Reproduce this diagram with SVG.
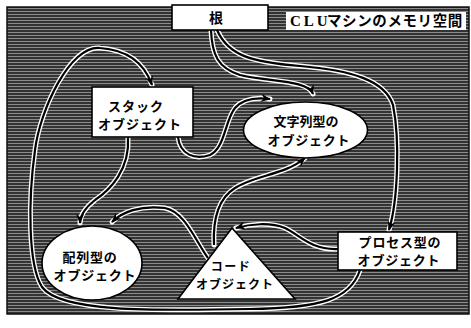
<svg xmlns="http://www.w3.org/2000/svg" width="471" height="328" viewBox="0 0 471 328">
<defs>
<pattern id="halftone" width="4" height="3" patternUnits="userSpaceOnUse">
<rect width="4" height="3" fill="#333"/>
<rect y="2" width="4" height="1" fill="#8c8c8c"/>
</pattern>
<marker id="arrow" viewBox="0 0 10 8" refX="9" refY="4" markerWidth="10" markerHeight="8" markerUnits="userSpaceOnUse" orient="auto">
<path d="M0,0 L10,4 L0,8 L3,4 z" fill="#000"/>
</marker>
</defs>
<style>
.node{fill:#fff;stroke:#000;stroke-width:1.6}
.lbl{font-family:"Noto Sans CJK JP","Noto Sans",sans-serif;font-weight:bold;font-size:13px;fill:#000}
.halo{fill:none;stroke:#fff;stroke-width:5;stroke-linecap:round}
.wire{fill:none;stroke:#000;stroke-width:2.2;marker-end:url(#arrow)}
</style>
<rect x="0" y="0" width="471" height="328" fill="#fff"/>
<rect x="7" y="7" width="462" height="307" fill="url(#halftone)" stroke="#111" stroke-width="1.5"/>
<g id="title">
<rect x="286" y="12" width="180" height="18" fill="#fff"/>
<text class="lbl" y="26" style="font-size:14.5px"><tspan x="290" style="font-family:'Liberation Serif',serif;font-size:15px" letter-spacing="3">CLU</tspan><tspan x="327" letter-spacing="0.6">マシンのメモリ空間</tspan></text>
</g>
<g id="connectors">
<path class="halo" d="M211,30 C212,55 218,68 240,75 C270,82 308,80 313,94"/>
<path class="halo" d="M217,30 C228,55 250,62 300,66 C350,70 385,80 393,105 C400,140 398,200 389,230"/>
<path class="halo" d="M360,270 C350,300 320,308 250,309 C150,311 60,312 42,287 C28,265 28,200 35,150 C40,110 70,45 100,48 C130,50 145,65 152,85"/>
<path class="halo" d="M128,137 C130,170 110,190 95,200 C85,208 80,215 80,223"/>
<path class="halo" d="M178,137 C180,155 195,160 210,155 C225,148 225,120 235,108 C242,100 255,97 270,99"/>
<path class="halo" d="M214,245 C213,225 216,200 235,188 C255,175 285,175 305,158"/>
<path class="halo" d="M208,258 C195,240 185,212 165,208 C140,205 122,212 112,222"/>
<path class="halo" d="M338,249 C310,250 300,235 285,228 C270,222 250,224 236,228"/>
<path class="wire" d="M211,30 C212,55 218,68 240,75 C270,82 308,80 313,94"/>
<path class="wire" d="M217,30 C228,55 250,62 300,66 C350,70 385,80 393,105 C400,140 398,200 389,230"/>
<path class="wire" d="M360,270 C350,300 320,308 250,309 C150,311 60,312 42,287 C28,265 28,200 35,150 C40,110 70,45 100,48 C130,50 145,65 152,85"/>
<path class="wire" d="M128,137 C130,170 110,190 95,200 C85,208 80,215 80,223"/>
<path class="wire" d="M178,137 C180,155 195,160 210,155 C225,148 225,120 235,108 C242,100 255,97 270,99"/>
<path class="wire" d="M214,245 C213,225 216,200 235,188 C255,175 285,175 305,158"/>
<path class="wire" d="M208,258 C195,240 185,212 165,208 C140,205 122,212 112,222"/>
<path class="wire" d="M338,249 C310,250 300,235 285,228 C270,222 250,224 236,228"/>
</g>
<g id="root">
<rect class="node" x="172" y="5" width="96" height="25"/>
<text class="lbl" x="216" y="23" text-anchor="middle" style="font-size:14px">根</text>
</g>
<g id="stack">
<rect class="node" x="92" y="87" width="101" height="50"/>
<text class="lbl" x="108" y="111" letter-spacing="1">スタック</text>
<text class="lbl" x="98" y="129" letter-spacing="1">オブジェクト</text>
</g>
<g id="string">
<ellipse class="node" cx="305.5" cy="130" rx="62" ry="28"/>
<text class="lbl" x="306" y="126" text-anchor="middle">文字列型の</text>
<text class="lbl" x="309" y="145" text-anchor="middle" letter-spacing="0.8">オブジェクト</text>
</g>
<g id="array">
<ellipse class="node" cx="92" cy="263" rx="50" ry="37"/>
<text class="lbl" x="90" y="262" text-anchor="middle" letter-spacing="0.8">配列型の</text>
<text class="lbl" x="95" y="280" text-anchor="middle" letter-spacing="0.8">オブジェクト</text>
</g>
<g id="code">
<polygon class="node" points="232,228 178,299 295,299"/>
<text class="lbl" x="231" y="271" text-anchor="middle" style="font-size:12px" letter-spacing="1.5">コード</text>
<text class="lbl" x="235" y="289" text-anchor="middle" style="font-size:12px" letter-spacing="1">オブジェクト</text>
</g>
<g id="process">
<rect class="node" x="338" y="232" width="119" height="38"/>
<text class="lbl" x="400" y="247" text-anchor="middle" letter-spacing="0.8">プロセス型の</text>
<text class="lbl" x="399" y="265" text-anchor="middle" letter-spacing="0.8">オブジェクト</text>
</g>
</svg>
